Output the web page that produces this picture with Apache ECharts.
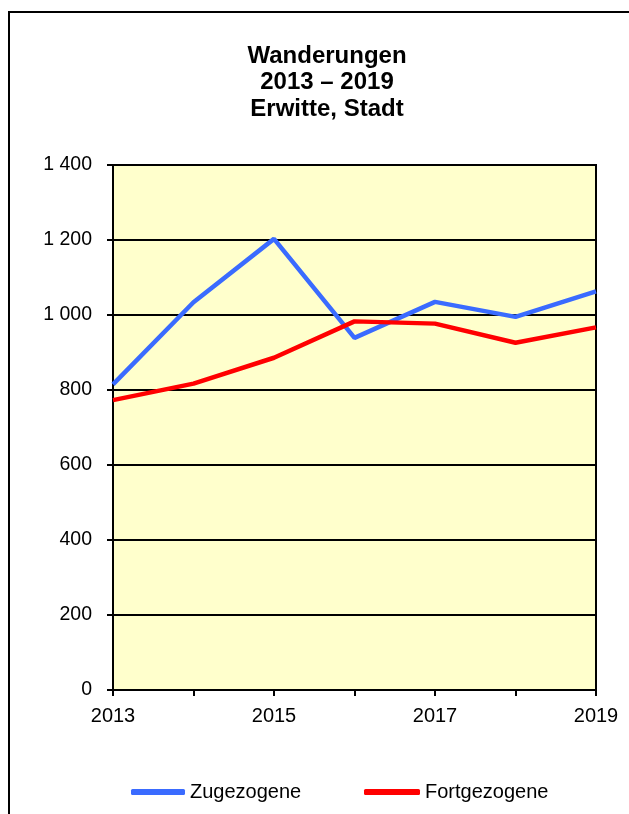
<!DOCTYPE html>
<html>
<head>
<meta charset="utf-8">
<script src="https://cdn.jsdelivr.net/npm/echarts@6/dist/echarts.min.js"></script>
<style>
  html, body { margin: 0; padding: 0; background: #fff; }
  #container { width: 629px; height: 814px; }
</style>
</head>
<body>
<div id="container"></div>
<script>
// data
const years = ['2013', '2014', '2015', '2016', '2017', '2018', '2019'];
const zugezogene = [815, 1034, 1203, 939, 1035, 995, 1063];
const fortgezogene = [773, 817, 886, 983, 977, 926, 967];
const yTicks = [0, 200, 400, 600, 800, 1000, 1200, 1400];

const dom = document.getElementById('container');
const myChart = echarts.init(dom, null, { renderer: 'canvas' });

const fontFamily = 'Liberation Sans, Arial, sans-serif';

let option = {
  animation: false,
  backgroundColor: '#fff',
  title: {
    text: 'Wanderungen\n2013 \u2013 2019\nErwitte, Stadt',
    left: 327,
    textAlign: 'center',
    top: 43,
    padding: 0,
    textStyle: {
      fontFamily: fontFamily,
      fontSize: 24,
      fontWeight: 'bold',
      color: '#000',
      lineHeight: 26.5
    }
  },
  graphic: [
    {
      type: 'rect',
      shape: { x: 9, y: 12, width: 660, height: 860 },
      style: { fill: null, stroke: '#000', lineWidth: 2 },
      silent: true
    }
  ],
  legend: [
    {
      data: ['Zugezogene'],
      left: 126,
      top: 777,
      icon: 'roundRect',
      itemWidth: 54,
      itemHeight: 6,
      textStyle: { fontFamily: fontFamily, fontSize: 20, color: '#000' }
    },
    {
      data: ['Fortgezogene'],
      left: 359,
      top: 777,
      icon: 'roundRect',
      itemWidth: 56,
      itemHeight: 6,
      textStyle: { fontFamily: fontFamily, fontSize: 20, color: '#000' }
    }
  ],
  grid: {
    left: 113,
    right: 33,
    top: 165,
    bottom: 124,
    show: true,
    backgroundColor: '#FFFFCC',
    borderColor: '#000',
    borderWidth: 2,
    outerBoundsMode: 'none'
  },
  xAxis: {
    type: 'category',
    data: years,
    boundaryGap: false,
    axisLine: { lineStyle: { color: '#000', width: 2 } },
    axisTick: { show: true, length: 6, alignWithLabel: true, lineStyle: { color: '#000', width: 2 } },
    axisLabel: {
      interval: 0,
      margin: 16,
      fontFamily: fontFamily,
      fontSize: 20,
      color: '#000',
      formatter: function (v, i) { return i % 2 === 0 ? v : ''; }
    },
    splitLine: { show: false }
  },
  yAxis: {
    type: 'value',
    min: yTicks[0],
    max: yTicks[yTicks.length - 1],
    interval: 200,
    axisLine: { show: true, lineStyle: { color: '#000', width: 2 } },
    axisTick: { show: true, length: 6, lineStyle: { color: '#000', width: 2 } },
    axisLabel: {
      margin: 21,
      fontFamily: fontFamily,
      fontSize: 19.5,
      color: '#000',
      formatter: function (v) {
        return String(v).replace(/\B(?=(\d{3})+(?!\d))/g, ' ');
      }
    },
    splitLine: { show: true, lineStyle: { color: '#000', width: 2 } }
  },
  series: [
    {
      name: 'Zugezogene',
      type: 'line',
      data: zugezogene,
      showSymbol: false,
      symbol: 'none',
      color: '#3A6BFF',
      lineStyle: { color: '#3A6BFF', width: 4.5 }
    },
    {
      name: 'Fortgezogene',
      type: 'line',
      data: fortgezogene,
      showSymbol: false,
      symbol: 'none',
      color: '#FF0000',
      lineStyle: { color: '#FF0000', width: 4.5 }
    }
  ]
};

myChart.setOption(option);
window.addEventListener('resize', myChart.resize);
</script>
</body>
</html>
